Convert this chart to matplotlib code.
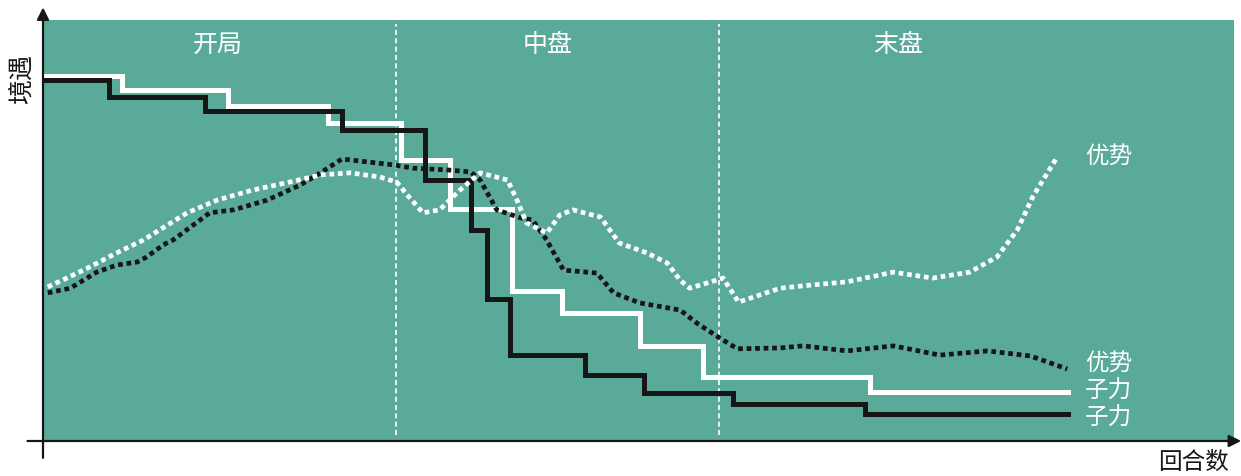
import numpy as np
import matplotlib
matplotlib.use('Agg')
import matplotlib.pyplot as plt

plt.rcParams['font.family'] = ['Noto Sans CJK SC', 'DejaVu Sans']

# phases (x = rounds, 0..100 scale)
phase_names = ['开局', '中盘', '末盘']
phase_bounds = [29.6, 56.8]
phase_label_x = [14.7, 42.4, 71.8]

# material (子力), step lines
black_mat_x = [0, 5.5, 13.6, 25.1, 32.1, 35.9, 37.3, 39.2, 45.5, 50.5, 57.9, 69.0, 86.1]
black_mat_y = [85.7, 81.7, 78.4, 73.9, 62.0, 50.1, 33.7, 20.4, 15.7, 11.4, 8.8, 6.4, 6.4]
white_mat_x = [0, 6.6, 15.5, 23.9, 30.1, 34.2, 39.4, 43.6, 50.1, 55.4, 69.4, 86.1]
white_mat_y = [86.7, 83.4, 79.6, 75.5, 66.7, 55.1, 35.6, 30.4, 22.6, 15.2, 11.6, 11.6]

# advantage (优势), dotted curves
black_adv_x = [0.4, 2.3, 4.5, 6.2, 7.9, 8.7, 10.1, 10.9, 14.0, 16.0, 18.8, 21.6, 23.3, 25.1,
               27.2, 29.4, 31.1, 33.9, 35.9, 36.7, 38.1, 40.1, 41.1, 42.3, 43.7, 46.5, 47.9,
               50.1, 53.5, 54.9, 56.8, 58.3, 61.9, 63.8, 67.5, 71.4, 75.3, 79.3, 82.9, 86.0]
black_adv_y = [35.2, 36.3, 40.1, 41.8, 42.5, 43.7, 46.6, 47.7, 54.2, 54.9, 57.2, 60.8, 63.7, 67.0,
               66.3, 65.6, 64.8, 64.4, 63.9, 62.0, 54.9, 53.0, 52.5, 47.7, 40.6, 39.9, 35.2,
               32.8, 31.1, 28.0, 24.5, 21.9, 22.1, 22.6, 21.4, 22.6, 20.4, 21.4, 20.2, 17.1]
white_adv_x = [0.4, 2.0, 3.9, 6.2, 8.4, 12.1, 14.6, 17.6, 20.7, 23.3, 25.8, 28.3, 29.7, 30.6,
               31.9, 33.3, 35.0, 36.7, 39.0, 39.8, 40.6, 42.3, 43.4, 44.5, 46.8, 48.4, 50.7,
               52.4, 53.5, 54.3, 56.3, 57.1, 58.4, 61.9, 64.7, 67.5, 71.4, 74.7, 77.8, 80.1,
               81.8, 83.1, 85.1]
white_adv_y = [36.6, 38.7, 41.3, 44.7, 47.7, 54.2, 57.2, 59.6, 61.5, 63.2, 63.7, 62.7, 61.5, 58.4,
               54.2, 54.9, 59.6, 63.7, 62.0, 57.2, 51.8, 49.4, 53.7, 54.9, 53.2, 47.0, 44.7,
               42.3, 38.2, 36.3, 38.0, 38.7, 33.0, 36.3, 37.1, 37.8, 40.1, 38.7, 40.1, 43.7,
               50.1, 58.0, 67.2]

end_labels = ['优势', '优势', '子力', '子力']
end_label_y = [67.5, 18.3, 11.8, 5.5]

green = '#5aaa9a'
dark = '#161616'

fig = plt.figure(figsize=(12.41, 4.76), dpi=100)
ax = fig.add_axes([43/1241, 35/476, 1191/1241, 421/476])
ax.set_facecolor(green)
ax.set_xlim(0, 100)
ax.set_ylim(0, 100)
ax.set_xticks([])
ax.set_yticks([])
for s in ax.spines.values():
    s.set_visible(False)

for b in phase_bounds:
    ax.plot([b, b], [1.5, 99], color='white', lw=1.2, ls=(0, (3, 2)))
for name, lx in zip(phase_names, phase_label_x):
    ax.text(lx, 94, name, color='white', fontsize=18, ha='center', va='center')

ax.step(white_mat_x, white_mat_y, where='post', color='white', lw=3.6, solid_joinstyle='miter')
ax.step(black_mat_x, black_mat_y, where='post', color=dark, lw=3.6, solid_joinstyle='miter')
ax.plot(black_adv_x, black_adv_y, color=dark, lw=3.4, ls=(0, (1, 0.8)), dash_capstyle='butt')
ax.plot(white_adv_x, white_adv_y, color='white', lw=3.4, ls=(0, (1, 0.8)), dash_capstyle='butt')

# end labels
for lab, ly in zip(end_labels, end_label_y):
    ax.text(87.5, ly, lab, color='white', fontsize=17, va='center')

# axes with arrows
ax.annotate('', xy=(0, 1.03), xytext=(0, -0.04), xycoords='axes fraction',
            arrowprops=dict(arrowstyle='-|>', color=dark, lw=1.6, mutation_scale=18,
                            shrinkA=0, shrinkB=0), annotation_clip=False)
ax.annotate('', xy=(1.006, 0), xytext=(-0.013, 0), xycoords='axes fraction',
            arrowprops=dict(arrowstyle='-|>', color=dark, lw=1.6, mutation_scale=18,
                            shrinkA=0, shrinkB=0), annotation_clip=False)

fig.text(23/1241, 1 - 79/476, '境遇', rotation=90, fontsize=18, ha='center', va='center', color=dark)
fig.text(1193/1241, 1 - 462/476, '回合数', fontsize=17, ha='center', va='center', color=dark)

fig.savefig('out.png', dpi=100)
